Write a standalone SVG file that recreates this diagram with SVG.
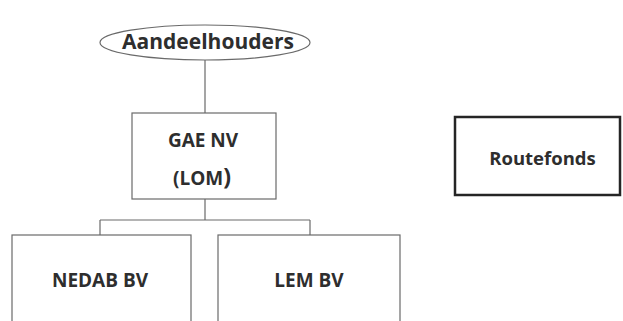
<svg xmlns="http://www.w3.org/2000/svg" width="623" height="321" viewBox="0 0 623 321">
<style>
.n{fill:#fff;stroke:#6a6a6a;stroke-width:1.2}
.t{font-family:"Open Sans","Liberation Sans",sans-serif;font-weight:bold;fill:#2e2e2e;text-anchor:middle}
.c{fill:none;stroke:#6a6a6a;stroke-width:1.2}
</style>
<rect width="623" height="321" fill="#fff"/>
<g id="connectors">
<path class="c" d="M205 60V113M205 199V220M100 220H310M100 220V235M310 220V235"/>
</g>
<g id="aandeelhouders">
<ellipse class="n" cx="205" cy="42.5" rx="105" ry="17.5"/>
<text class="t" x="208" y="48.5" font-size="21">Aandeelhouders</text>
</g>
<g id="gae">
<rect class="n" x="132" y="113" width="144" height="86"/>
<text class="t" x="203" y="147" font-size="19">GAE NV</text>
<text class="t" x="202" y="185" font-size="19">(LOM<tspan font-size="23">)</tspan></text>
</g>
<g id="nedab">
<rect class="n" x="12" y="235" width="179" height="100"/>
<text class="t" x="100" y="287" font-size="19">NEDAB BV</text>
</g>
<g id="lem">
<rect class="n" x="218" y="235" width="182" height="100"/>
<text class="t" x="309" y="287" font-size="19">LEM BV</text>
</g>
<g id="routefonds">
<rect x="455" y="117" width="165" height="78" fill="#fff" stroke="#252525" stroke-width="2.5"/>
<text class="t" x="542.5" y="165" font-size="18.5">Routefonds</text>
</g>
</svg>
